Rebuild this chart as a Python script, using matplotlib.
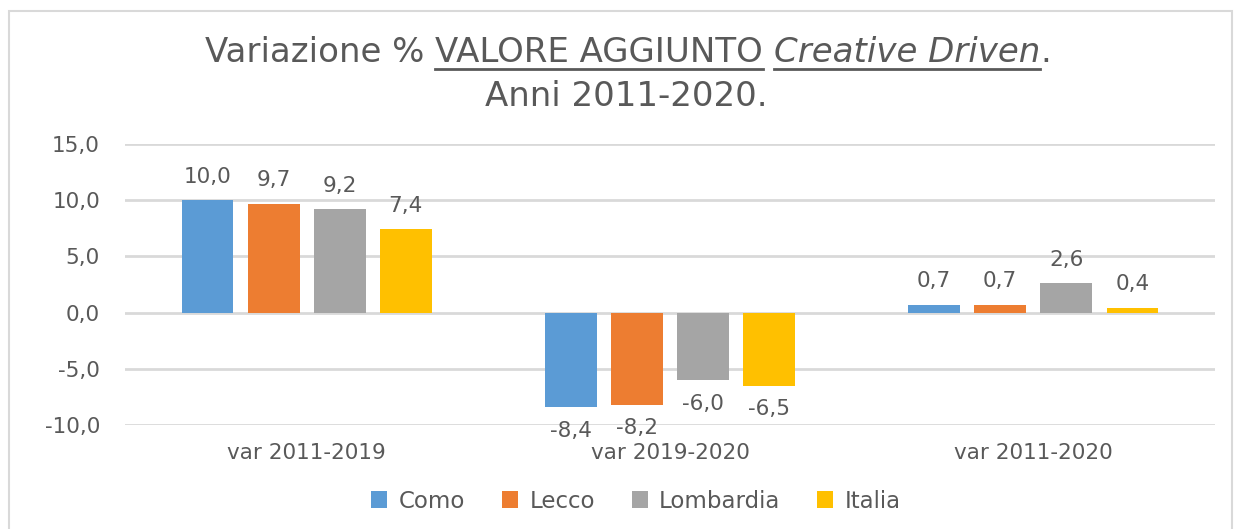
import matplotlib.pyplot as plt
import numpy as np
from matplotlib.patches import Rectangle
from matplotlib.lines import Line2D

# Daten
categories = ['var 2011-2019', 'var 2019-2020', 'var 2011-2020']
series = ['Como', 'Lecco', 'Lombardia', 'Italia']
como = [10.0, -8.4, 0.7]
lecco = [9.7, -8.2, 0.7]
lombardia = [9.2, -6.0, 2.6]
italia = [7.4, -6.5, 0.4]
colors = ['#5B9BD5', '#ED7D31', '#A5A5A5', '#FFC000']
yticks = [-10, -5, 0, 5, 10, 15]

txt = '#595959'
fs = 15.5
fig = plt.figure(figsize=(12.39, 5.29), dpi=100)
ax = fig.add_axes([0.1009, 0.1966, 0.8797, 0.5312])

x = np.arange(len(categories))
step = 0.182
width = 0.143
for i, (name, vals) in enumerate(zip(series, [como, lecco, lombardia, italia])):
    pos = x + (i - 1.5) * step
    ax.bar(pos, vals, width, color=colors[i], label=name, zorder=3)
    for p, v in zip(pos, vals):
        lab = f'{v:.1f}'.replace('.', ',')
        off = 17 if v >= 0 else -17
        ax.annotate(lab, (p, v), xytext=(0, off), textcoords='offset points',
                    ha='center', va='center', fontsize=fs, color=txt)

ax.set_ylim(-10, 15)
ax.set_xlim(-0.5, 2.5)
ax.set_yticks(yticks)
ax.set_yticklabels([f'{t:.1f}'.replace('.', ',') for t in yticks], fontsize=fs, color=txt)
ax.set_xticks(x)
ax.set_xticklabels(categories, fontsize=fs, color=txt)
ax.tick_params(axis='y', length=0, pad=18)
ax.tick_params(axis='x', length=0, pad=13)
ax.grid(axis='y', color='#D9D9D9', linewidth=2, zorder=0)
for s in ax.spines.values():
    s.set_visible(False)

# Rahmen
fig.patches.append(Rectangle((9 / 1239, -0.05), 1223 / 1239, 1.05 - 11 / 529,
                             transform=fig.transFigure, fill=False,
                             edgecolor='#D9D9D9', linewidth=1.5))

# Titel in Stuecken (mit Unterstreichung)
tsize = 24.5
pieces = [('Variazione % ', 'normal', False), ('VALORE AGGIUNTO', 'normal', True),
          (' ', 'normal', False), ('Creative Driven', 'italic', True), ('.', 'normal', False)]
r = fig.canvas.get_renderer()
y1 = 1 - 53 / 529
objs = []
for s, st, ul in pieces:
    t = fig.text(0, y1, s, fontsize=tsize, style=st, color=txt, va='center')
    objs.append((t, ul))
widths = [t.get_window_extent(r).width for t, _ in objs]
total = sum(widths)
xs = 628 - total / 2
for (t, ul), w in zip(objs, widths):
    t.set_x(xs / 1239)
    if ul:
        yl = 1 - 69 / 529
        fig.add_artist(Line2D([xs / 1239, (xs + w) / 1239], [yl, yl],
                              transform=fig.transFigure, color=txt, linewidth=2))
    xs += w
fig.text(626 / 1239, 1 - 97 / 529, 'Anni 2011-2020.', fontsize=tsize,
         color=txt, ha='center', va='center')

leg = ax.legend(loc='center', bbox_to_anchor=(636 / 1239, 1 - 501 / 529),
                bbox_transform=fig.transFigure, ncol=4, frameon=False, fontsize=fs + 1,
                handlelength=0.7, handleheight=0.7, handletextpad=0.5, columnspacing=1.6)
for t in leg.get_texts():
    t.set_color(txt)

fig.savefig('out.png', dpi=100)
